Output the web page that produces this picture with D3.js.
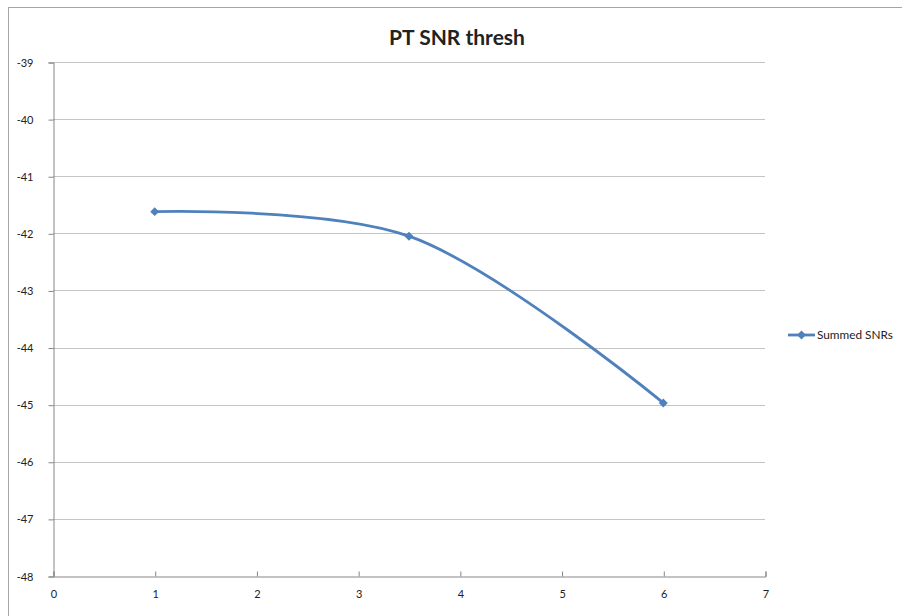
<!DOCTYPE html>
<html>
<head>
<meta charset="utf-8">
<script src="https://cdn.jsdelivr.net/npm/d3@7"></script>
<style>
  body { margin: 0; background: #fff; }
  svg text { font-family: Lato, "Open Sans", sans-serif; fill: #222; }
</style>
</head>
<body>
<div id="chart"></div>
<script>
// data
const seriesName = "Summed SNRs";
const xValues = [1, 3.5, 6];
const yValues = [-41.62, -42.05, -44.97];
const xTicks = [0, 1, 2, 3, 4, 5, 6, 7];
const yTicks = [-39, -40, -41, -42, -43, -44, -45, -46, -47, -48];

const width = 902, height = 616;
const plot = { left: 53, right: 765, top: 62, bottom: 576 };
const blue = "#4f81bd";

let svg = d3.select("#chart").append("svg")
    .attr("width", width)
    .attr("height", height);

// chart frame
svg.append("rect")
    .attr("x", 8.5).attr("y", 7.5)
    .attr("width", width).attr("height", height)
    .attr("fill", "none")
    .attr("stroke", "#a6a6a6");

let x = d3.scaleLinear().domain([0, 7]).range([plot.left, plot.right]);
let y = d3.scaleLinear().domain([-48, -39]).range([plot.bottom, plot.top]);

// horizontal gridlines
svg.append("g")
    .selectAll("line")
    .data(yTicks.filter(d => d !== -48))
    .enter()
    .append("line")
    .attr("x1", plot.left).attr("x2", plot.right)
    .attr("y1", d => Math.round(y(d)) + 0.5)
    .attr("y2", d => Math.round(y(d)) + 0.5)
    .attr("stroke", "#c4c4c4");

// y axis (plain hyphen minus like the original)
let yAxis = svg.append("g")
    .attr("transform", "translate(" + (plot.left + 0.5) + ",0.5)")
    .call(d3.axisLeft(y).tickValues(yTicks).tickSize(5).tickPadding(15).tickFormat(d => String(d)));

// x axis
let xAxis = svg.append("g")
    .attr("transform", "translate(0.5," + (plot.bottom + 0.5) + ")")
    .call(d3.axisBottom(x).tickValues(xTicks).tickSize(-5).tickPadding(14).tickFormat(d => String(d)));

[yAxis, xAxis].forEach(function(ax) {
    ax.select(".domain").attr("stroke", "#868686");
    ax.selectAll(".tick line").attr("stroke", "#868686");
    ax.selectAll(".tick text").style("font-size", "11px").attr("fill", "#222");
});

// series line
let pts = xValues.map((v, i) => [x(v), y(yValues[i])]);
let line = d3.line().curve(d3.curveCatmullRom.alpha(0.5));

svg.append("path")
    .attr("d", line(pts))
    .attr("fill", "none")
    .attr("stroke", blue)
    .attr("stroke-width", 2.8);

// diamond marker: a square turned 45 degrees
let diamond = d3.symbol().type(d3.symbolSquare).size(40);

svg.append("g")
    .selectAll("path")
    .data(pts)
    .enter()
    .append("path")
    .attr("d", diamond)
    .attr("transform", d => "translate(" + d[0] + "," + d[1] + ") rotate(45)")
    .attr("fill", blue);

// title
svg.append("text")
    .attr("x", 457).attr("y", 45)
    .attr("text-anchor", "middle")
    .style("font-size", "21px")
    .style("font-weight", "bold")
    .text("PT SNR thresh");

// legend
let legend = svg.append("g").attr("transform", "translate(788,335)");
legend.append("line")
    .attr("x1", 0).attr("x2", 27)
    .attr("stroke", blue).attr("stroke-width", 2.8);
legend.append("path")
    .attr("d", diamond)
    .attr("transform", "translate(13.5,0) rotate(45)")
    .attr("fill", blue);
legend.append("text")
    .attr("x", 29).attr("y", 4)
    .style("font-size", "11.8px")
    .text(seriesName);
</script>
</body>
</html>
